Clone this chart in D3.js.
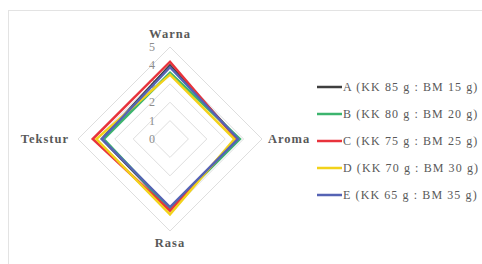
<!DOCTYPE html>
<html>
<head>
<meta charset="utf-8">
<script src="https://cdn.jsdelivr.net/npm/d3@7"></script>
</head>
<body style="margin:0; background:#fff">
<div id="vis"></div>
<script>
// chart data
const axes = ["Warna", "Aroma", "Rasa", "Tekstur"]
const seriesNames = [
  "A (KK 85 g : BM 15 g)",
  "B (KK 80 g : BM 20 g)",
  "C (KK 75 g : BM 25 g)",
  "D (KK 70 g : BM 30 g)",
  "E (KK 65 g : BM 35 g)"
]
const valuesA = [4.0, 3.7, 3.8, 3.7]
const valuesB = [3.6, 3.8, 3.8, 3.6]
const valuesC = [4.2, 3.6, 3.9, 4.2]
const valuesD = [3.5, 3.5, 4.1, 4.0]
const valuesE = [3.9, 3.7, 3.7, 3.7]
const ticks = [0, 1, 2, 3, 4, 5]
const colors = ["#3f3f3f", "#3cb46e", "#e8333c", "#f2d21a", "#5563b4"]

const allValues = [valuesA, valuesB, valuesC, valuesD, valuesE]

const width = 482, height = 264
const cx = 170, cy = 139, R = 92
const serif = "Liberation Serif"

var svg = d3.select("#vis")
  .append("svg")
  .attr("width", width)
  .attr("height", height)

// chart border
svg.append("rect")
  .attr("x", 8.5).attr("y", 10.5)
  .attr("width", 490).attr("height", 270)
  .attr("fill", "none")
  .attr("stroke", "#e3e3e3")

let r = d3.scaleLinear().domain([0, 5]).range([0, R])
let angle = d3.scalePoint().domain(axes.concat(["_end"])).range([0, 2 * Math.PI])

function pt(axis, v) {
  let a = angle(axis) - Math.PI / 2
  return [cx + r(v) * Math.cos(a), cy + r(v) * Math.sin(a)]
}

let line = d3.line().curve(d3.curveLinearClosed)

// grid rings
ticks.filter(t => t > 0).forEach(t => {
  svg.append("path")
    .attr("d", line(axes.map(a => pt(a, t))))
    .attr("fill", "none")
    .attr("stroke", "#dedede")
    .attr("stroke-width", 1)
})

// tick labels
svg.selectAll(".tick")
  .data(ticks)
  .enter()
  .append("text")
  .attr("x", cx - 18)
  .attr("y", d => cy - r(d) + 4)
  .attr("text-anchor", "middle")
  .attr("font-family", serif)
  .attr("font-size", 12)
  .attr("fill", "#8c8c8c")
  .text(d => d)

// series
allValues.forEach((vals, i) => {
  svg.append("path")
    .attr("d", line(axes.map((a, j) => pt(a, vals[j]))))
    .attr("fill", "none")
    .attr("stroke", colors[i])
    .attr("stroke-width", 2.5)
    .attr("stroke-linejoin", "miter")
})

// axis labels
const labelPos = {
  "Warna": [cx, 38, "middle"],
  "Aroma": [268, cy + 4, "start"],
  "Rasa": [cx, 247, "middle"],
  "Tekstur": [69, cy + 4, "end"]
}
axes.forEach(a => {
  let p = labelPos[a]
  svg.append("text")
    .attr("x", p[0]).attr("y", p[1])
    .attr("text-anchor", p[2])
    .attr("font-family", serif)
    .attr("font-weight", "bold")
    .attr("font-size", 12.5)
    .attr("letter-spacing", 1)
    .attr("fill", "#595959")
    .text(a)
})

// legend
let legend = svg.selectAll(".legend")
  .data(seriesNames)
  .enter()
  .append("g")
  .attr("transform", (d, i) => `translate(317, ${87 + i * 27})`)

legend.append("line")
  .attr("x1", 0).attr("x2", 25)
  .attr("stroke", (d, i) => colors[i])
  .attr("stroke-width", 2.5)

legend.append("text")
  .attr("x", 26).attr("y", 4)
  .attr("font-family", serif)
  .attr("font-size", 12)
  .attr("letter-spacing", 1.1)
  .attr("fill", "#595959")
  .text(d => d)
</script>
</body>
</html>
